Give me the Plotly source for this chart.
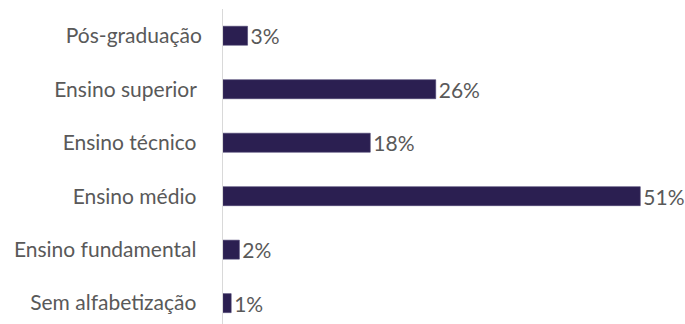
import plotly.graph_objects as go

# Escolaridade (de baixo para cima no eixo)
categorias = [
    "Sem alfabetização",
    "Ensino fundamental",
    "Ensino médio",
    "Ensino técnico",
    "Ensino superior",
    "Pós-graduação",
]
rotulos_eixo = [
    "Sem alfabetização\u00a0",
    "Ensino fundamental\u00a0",
    "Ensino médio\u00a0",
    "Ensino técnico\u00a0",
    "Ensino superior\u00a0",
    "Pós-graduação",
]
percentuais = [1, 2, 51, 18, 26, 3]
rotulos_valor = [f"{v}%" for v in percentuais]

COR_BARRA = "#2b1f51"
COR_TEXTO = "#595959"
FONTE = "Lato, 'Open Sans', sans-serif"

fig = go.Figure(
    go.Bar(
        x=percentuais,
        y=categorias,
        orientation="h",
        width=0.355,
        marker=dict(color=COR_BARRA, line=dict(color="#4a4170", width=0.6)),
        text=rotulos_valor,
        textposition="outside",
        constraintext="none",
        cliponaxis=False,
        textfont=dict(family=FONTE, size=21, color=COR_TEXTO),
        hoverinfo="skip",
    )
)

fig.update_layout(
    width=685,
    height=324,
    margin=dict(l=223, r=12, t=9, b=0),
    paper_bgcolor="white",
    plot_bgcolor="white",
    showlegend=False,
    font=dict(family=FONTE, size=21, color=COR_TEXTO),
)

fig.update_xaxes(
    range=[0, 55],
    visible=False,
    showgrid=False,
    zeroline=False,
)

fig.update_yaxes(
    type="category",
    categoryorder="array",
    categoryarray=categorias,
    tickvals=categorias,
    ticktext=rotulos_eixo,
    range=[-0.39, 5.5],
    showgrid=False,
    zeroline=False,
    showline=True,
    linecolor="#d9d9d9",
    linewidth=1,
    ticks="",
    ticklabelstandoff=16,
    tickfont=dict(family=FONTE, size=21, color=COR_TEXTO),
)

fig.write_html("out.html")
